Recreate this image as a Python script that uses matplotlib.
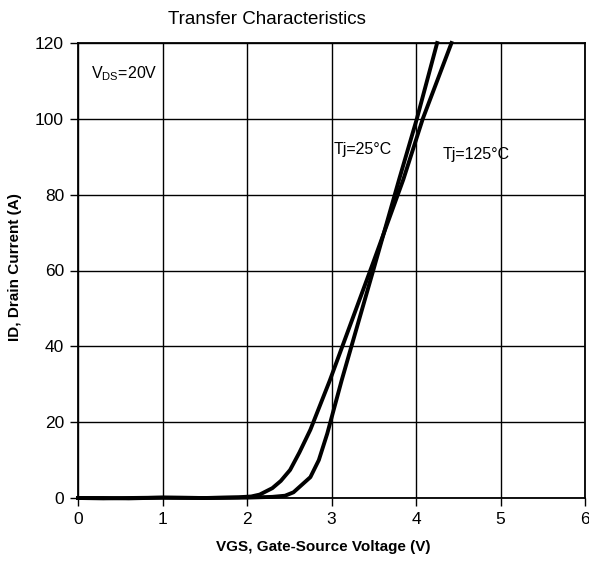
import matplotlib
matplotlib.use('Agg')
import matplotlib.pyplot as plt

# Tj = 25C curve
vgs_25 = [0.0, 0.3, 0.6, 1.0, 1.5, 2.0, 2.3, 2.45, 2.55, 2.65, 2.75, 2.85, 2.95, 3.12, 3.5, 3.8, 4.01, 4.25]
id_25 = [0.0, 0.0, -0.1, 0.1, 0.0, 0.1, 0.3, 0.6, 1.5, 3.5, 5.5, 10.0, 17.0, 31.0, 60.5, 84.0, 100.0, 120.0]

# Tj = 125C curve
vgs_125 = [0.0, 0.3, 0.6, 1.0, 1.5, 1.9, 2.05, 2.15, 2.3, 2.4, 2.51, 2.62, 2.75, 2.98, 3.5, 3.85, 4.08, 4.42]
id_125 = [0.0, -0.1, 0.0, 0.1, 0.0, 0.2, 0.4, 0.9, 2.6, 4.5, 7.4, 12.0, 18.0, 31.0, 62.5, 84.0, 100.0, 120.0]

x_ticks = [0, 1, 2, 3, 4, 5, 6]
y_ticks = [0, 20, 40, 60, 80, 100, 120]

plt.rcParams['font.family'] = ['Liberation Sans', 'DejaVu Sans']

fig = plt.figure(figsize=(5.89, 5.61), dpi=100)
ax = fig.add_axes([78 / 589, 1 - 498 / 561, (585 - 78) / 589, (498 - 43) / 561])

ax.plot(vgs_25, id_25, color='black', lw=2.8, solid_joinstyle='round', clip_on=False)
ax.plot(vgs_125, id_125, color='black', lw=2.8, solid_joinstyle='round', clip_on=False)

ax.set_xlim(0, 6)
ax.set_ylim(0, 120)
ax.set_xticks(x_ticks)
ax.set_yticks(y_ticks)
ax.grid(True, color='black', lw=1.0)
ax.set_axisbelow(True)
for s in ax.spines.values():
    s.set_linewidth(1.3)
ax.tick_params(direction='out', length=6, width=1.0, labelsize=12.5, pad=4)

ax.text(0.15, 112, r'V$_{\mathregular{DS}}$=20V', fontsize=11.5, va='center')
ax.text(3.03, 92, 'Tj=25°C', fontsize=11.5, va='center')
ax.text(4.32, 90.5, 'Tj=125°C', fontsize=11.5, va='center')

fig.text(267 / 589, 1 - 19 / 561, 'Transfer Characteristics', ha='center', va='center',
         fontsize=13.5)
fig.text(323 / 589, 1 - 547 / 561, 'VGS, Gate-Source Voltage (V)', ha='center', va='center',
         fontsize=11, fontweight='bold')
fig.text(15 / 589, 1 - 267 / 561, 'ID, Drain Current (A)', ha='center', va='center',
         rotation=90, fontsize=11, fontweight='bold')

fig.savefig('out.png', dpi=100)
